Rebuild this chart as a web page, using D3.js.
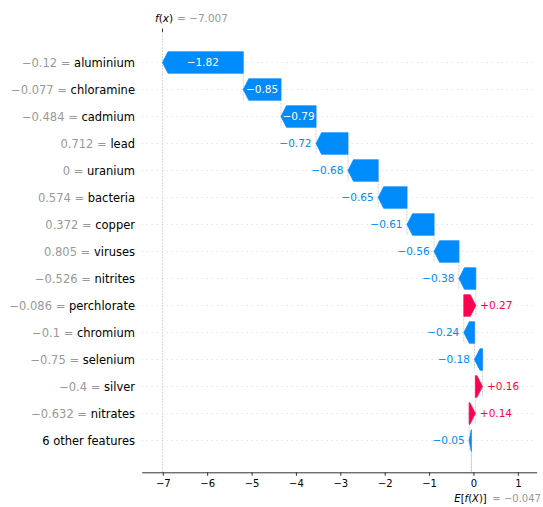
<!DOCTYPE html>
<html>
<head>
<meta charset="utf-8">
<script src="https://cdn.jsdelivr.net/npm/d3@7"></script>
<style>
  body { margin: 0; background: #fff; }
  svg { display: block; font-family: "DejaVu Sans", sans-serif; }
</style>
</head>
<body>
<svg id="chart" width="543" height="507"></svg>
<script>
// Feature rows, top to bottom
const features = ["aluminium", "chloramine", "cadmium", "lead", "uranium", "bacteria", "copper",
  "viruses", "nitrites", "perchlorate", "chromium", "selenium", "silver", "nitrates", "6 other features"];
// Observed feature values (null = aggregated row)
const featureValues = [-0.12, -0.077, -0.484, 0.712, 0, 0.574, 0.372, 0.805, -0.526, -0.086,
  -0.1, -0.75, -0.4, -0.632, null];
// SHAP contribution of each row
const shapValues = [-1.82, -0.85, -0.79, -0.72, -0.68, -0.65, -0.61, -0.56, -0.38, 0.27,
  -0.24, -0.18, 0.16, 0.14, -0.05];
const baseValue = -0.047;   // E[f(X)]
const fxValue = -7.007;     // f(x)
const xTicks = [-7, -6, -5, -4, -3, -2, -1, 0, 1];

const BLUE = "#008bfb", RED = "#ff0051";
const minus = s => String(s).replace("-", "\u2212");

const svg = d3.select("#chart");
const left = 141.7, right = 536.7, topY = 32, axisY = 472.3;
const x = d3.scaleLinear().domain([-7.475, 1.425]).range([left, right]);
const y = d3.scaleLinear().domain([0, features.length - 1]).range([62.5, 440.5]);
const rowH = y(1) - y(0);
const barH = rowH * 0.8;
const headLen = 5.5;

// running totals, built upward from the expected value
const n = features.length;
const starts = new Array(n), ends = new Array(n);
let acc = baseValue;
for (let i = n - 1; i >= 0; i--) { starts[i] = acc; acc += shapValues[i]; ends[i] = acc; }

svg.append("defs").append("clipPath").attr("id", "plotArea")
  .append("rect").attr("x", left).attr("y", topY).attr("width", right - left).attr("height", axisY - topY);

const plot = svg.append("g").attr("clip-path", "url(#plotArea)");

// dotted row guides
plot.selectAll("line.grid").data(features).join("line")
  .attr("class", "grid")
  .attr("x1", left).attr("x2", right)
  .attr("y1", (d, i) => y(i)).attr("y2", (d, i) => y(i))
  .attr("stroke", "#cccccc").attr("stroke-width", 0.7).attr("stroke-dasharray", "1,4");

// f(x) and E[f(X)] reference lines
plot.append("line")
  .attr("x1", x(fxValue)).attr("x2", x(fxValue)).attr("y1", topY).attr("y2", axisY)
  .attr("stroke", "#c8c8c8").attr("stroke-width", 0.7).attr("stroke-dasharray", "2,1");
plot.append("line")
  .attr("x1", x(baseValue)).attr("x2", x(baseValue))
  .attr("y1", axisY - (axisY - topY) / n).attr("y2", axisY)
  .attr("stroke", "#c8c8c8").attr("stroke-width", 0.7).attr("stroke-dasharray", "2,1");

// connectors between consecutive steps
plot.selectAll("line.conn").data(features).join("line")
  .attr("class", "conn")
  .attr("x1", (d, i) => x(starts[i])).attr("x2", (d, i) => x(starts[i]))
  .attr("y1", (d, i) => y(i) - 0.4 * rowH).attr("y2", (d, i) => y(i) + 1.4 * rowH)
  .attr("stroke", "#bbbbbb").attr("stroke-width", 0.7).attr("stroke-dasharray", "2,1");

// arrow-shaped bars
function arrowPath(s, e, cy) {
  const x0 = x(s), x1 = x(e);
  const dir = x1 >= x0 ? 1 : -1;
  const h = Math.min(Math.abs(x1 - x0), headLen);
  const neck = x1 - dir * h;
  const t = cy - barH / 2, b = cy + barH / 2;
  return `M${x0},${t}L${neck},${t}L${x1},${cy}L${neck},${b}L${x0},${b}Z`;
}
svg.append("g").selectAll("path").data(features).join("path")
  .attr("d", (d, i) => arrowPath(starts[i], ends[i], y(i)))
  .attr("fill", (d, i) => shapValues[i] < 0 ? BLUE : RED)
  .attr("stroke", (d, i) => shapValues[i] < 0 ? BLUE : RED)
  .attr("stroke-width", 0.7).attr("stroke-linejoin", "round");

// value labels on / beside the bars
const barLabels = svg.append("g").attr("font-size", 10.5);
features.forEach((d, i) => {
  const v = shapValues[i];
  const txt = v < 0 ? minus(v.toFixed(2)) : "+" + v.toFixed(2);
  const col = v < 0 ? BLUE : RED;
  const t = barLabels.append("text").attr("y", y(i)).attr("dy", "0.35em").text(txt);
  const w = t.node().getComputedTextLength();
  const bw = Math.abs(x(ends[i]) - x(starts[i]));
  if (w + 2 < bw) {
    t.attr("x", (x(starts[i]) + x(ends[i])) / 2).attr("text-anchor", "middle").attr("fill", "#fff");
  } else if (v < 0) {
    t.attr("x", x(ends[i]) - 4.5).attr("text-anchor", "end").attr("fill", col);
  } else {
    t.attr("x", x(ends[i]) + 4.5).attr("text-anchor", "start").attr("fill", col);
  }
});

// feature names with their values
const names = svg.append("g").attr("font-size", 11.5).attr("text-anchor", "end");
features.forEach((d, i) => {
  const t = names.append("text").attr("x", 135).attr("y", y(i)).attr("dy", "0.35em");
  if (featureValues[i] !== null) {
    t.append("tspan").attr("fill", "#999999").text(minus(featureValues[i]) + " = ");
  }
  t.append("tspan").attr("fill", "#000").text(d);
});

// bottom axis
const axis = svg.append("g").attr("transform", `translate(0,${axisY})`)
  .call(d3.axisBottom(x).tickValues(xTicks).tickFormat(v => minus(v))
    .tickSize(3.5).tickSizeOuter(0).tickPadding(4));
axis.select(".domain").attr("stroke", "#333").attr("stroke-width", 1);
axis.selectAll(".tick line").attr("stroke", "#333");
axis.selectAll(".tick text").attr("font-size", 10).attr("fill", "#000")
  .attr("font-family", "DejaVu Sans, sans-serif");

// f(x) marker on top
svg.append("line")
  .attr("x1", x(fxValue)).attr("x2", x(fxValue)).attr("y1", topY - 3.5).attr("y2", topY)
  .attr("stroke", "#333").attr("stroke-width", 1);
const fxText = svg.append("text").attr("x", x(fxValue) - 7.5).attr("y", 22).attr("font-size", 10.5);
fxText.append("tspan").attr("font-style", "italic").attr("fill", "#000").text("f");
fxText.append("tspan").attr("fill", "#000").text("(");
fxText.append("tspan").attr("font-style", "italic").attr("fill", "#000").text("x");
fxText.append("tspan").attr("fill", "#000").text(")");
svg.append("text").attr("x", x(fxValue) + 14.5).attr("y", 22).attr("font-size", 10.5)
  .attr("fill", "#999999").text("= " + minus(fxValue.toFixed(3)));

// E[f(X)] label under the axis
const eText = svg.append("text").attr("x", x(baseValue) - 17).attr("y", 501.5).attr("font-size", 10);
eText.append("tspan").attr("font-style", "italic").attr("fill", "#000").text("E");
eText.append("tspan").attr("fill", "#000").text("[");
eText.append("tspan").attr("font-style", "italic").attr("fill", "#000").text("f");
eText.append("tspan").attr("fill", "#000").text("(");
eText.append("tspan").attr("font-style", "italic").attr("fill", "#000").text("X");
eText.append("tspan").attr("fill", "#000").text(")]");
svg.append("text").attr("x", x(baseValue) + 21).attr("y", 501.5).attr("font-size", 10)
  .attr("fill", "#999999").text("= " + minus(baseValue.toFixed(3)));
</script>
</body>
</html>
